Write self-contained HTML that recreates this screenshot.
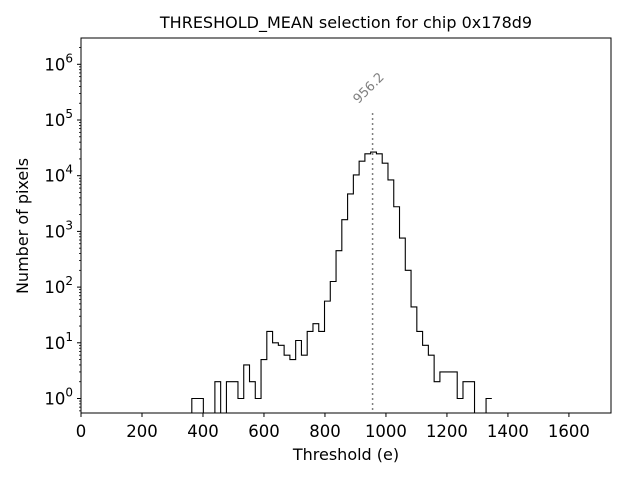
<!DOCTYPE html>
<html><head><meta charset="utf-8"><style>
body{margin:0;background:#fff}
svg text{font-family:"DejaVu Sans","Liberation Sans",sans-serif}
</style></head><body>
<svg id="chart" width="640" height="480" viewBox="0 0 640 480" xmlns="http://www.w3.org/2000/svg">
<rect width="640" height="480" fill="#fff"/>
<text x="346" y="28" font-size="16" text-anchor="middle">THRESHOLD_MEAN selection for chip 0x178d9</text>
<g id="axes"></g>
<text x="346" y="460" font-size="16" text-anchor="middle">Threshold (e)</text>
<text x="0" y="0" font-size="16" text-anchor="middle" transform="translate(28,226) rotate(-90)">Number of pixels</text>
</svg>
<script>
const binStart = 3.9;
const binWidth = 18.92;
const counts = [0,0,0,0,0,0,0,0,0,0,0,0,0,0,0,0,0,0,0,
 1,1,0,0,2,0,2,2,1,4,2,1,5,16,10,9,6,5,11,6,16,22,16,
 56,126,450,1620,4700,10300,18200,24700,26600,24700,16800,8400,2770,760,200,44,16,9,6,2,3,3,3,1,2,2,0,0,1];
const meanValue = 956.2;
const xTicks = [0,200,400,600,800,1000,1200,1400,1600];
const yTickExps = [0,1,2,3,4,5,6];

const L=81,R=611,T=38,B=413;
const xMin=0,xMax=1738;
const X=v=>L+(v-xMin)/(xMax-xMin)*(R-L);
const Y=v=>398.5-Math.log10(v)*55.7;
const g=document.getElementById('axes');
const NS='http://www.w3.org/2000/svg';
function mk(tag,attrs,parent){const e=document.createElementNS(NS,tag);for(const k in attrs)e.setAttribute(k,attrs[k]);(parent||g).appendChild(e);return e;}

const defs=mk('defs',{});
const cp=mk('clipPath',{id:'clip'},defs);
mk('rect',{x:L,y:T,width:R-L,height:B-T},cp);

let d='';
counts.forEach((c,i)=>{
  const x0=X(binStart+i*binWidth),x1=X(binStart+(i+1)*binWidth);
  const y=c>0?Y(c):B+20;
  d+=(i===0?'M':'L')+x0+','+y+' L'+x1+','+y+' ';
});
const hist=mk('path',{d:d,fill:'none',stroke:'#000','stroke-width':1.1,'clip-path':'url(#clip)'});



const mx=X(meanValue);
const ml=mk('line',{x1:mx,x2:mx,y1:113,y2:B,stroke:'#808080','stroke-width':1.5,'stroke-dasharray':'2,3'});


const mt=mk('text',{x:0,y:0,'font-size':13,fill:'#808080','text-anchor':'middle',transform:'translate('+(mx-1)+',91) rotate(-45)'});
mt.textContent=meanValue.toFixed(1);



const fr=mk('rect',{x:L,y:T,width:R-L,height:B-T,fill:'none',stroke:'#000','stroke-width':1});



xTicks.forEach(v=>{
  const x=X(v);
  mk('line',{x1:x,x2:x,y1:B,y2:B+4,stroke:'#000'});
  const t=mk('text',{x:x,y:B+24,'font-size':16.5,'text-anchor':'middle'});
  t.textContent=v;
  
  
});
yTickExps.forEach(e=>{
  const y=Y(Math.pow(10,e));
  mk('line',{x1:L-4,x2:L,y1:y,y2:y,stroke:'#000'});
  const t=mk('text',{x:L-8,y:y+6,'font-size':16.5,'text-anchor':'end'});
  
  
  const a=mk('tspan',{},t);a.textContent='10';
  const s=mk('tspan',{dy:-8,'font-size':12},t);s.textContent=e;
  for(let k=2;k<=9;k++){
    const yy=Y(k*Math.pow(10,e-1));
    if(yy<=B&&yy>=T) mk('line',{x1:L-2,x2:L,y1:yy,y2:yy,stroke:'#000','stroke-width':0.8});
  }
});
for(let k=2;k<=9;k++){const yy=Y(k*1e6);if(yy>=T)mk('line',{x1:L-2,x2:L,y1:yy,y2:yy,stroke:'#000','stroke-width':0.8});}
</script>
</body></html>
